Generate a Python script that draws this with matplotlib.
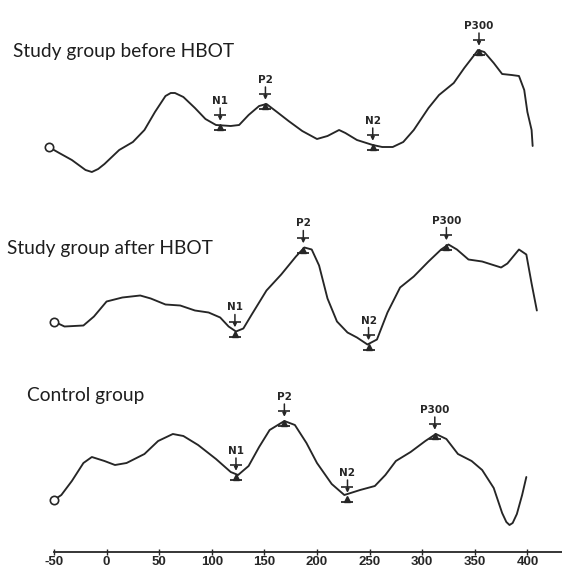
import matplotlib.pyplot as plt
from matplotlib.transforms import offset_copy

# latency (ms) and amplitude (arbitrary units, up = positive)
time_before = [-55, -45, -33, -20, -14, -8, -2, 12, 25, 36, 46, 56, 61, 65, 73, 84, 94, 104, 118,
               126, 135, 145, 152, 162, 173, 186, 200, 210, 221, 227, 238, 253, 262, 272, 282, 292,
               306, 316, 330, 340, 351, 353, 359, 368, 376, 385, 392, 397, 400, 404, 405]
amp_before = [0.0, -0.6, -1.3, -2.3, -2.5, -2.2, -1.7, -0.3, 0.5, 1.7, 3.5, 5.1, 5.4, 5.4, 5.0, 3.9,
              2.8, 2.2, 2.1, 2.2, 3.2, 4.1, 4.3, 3.5, 2.6, 1.6, 0.8, 1.1, 1.7, 1.4, 0.7, 0.2, 0.0,
              0.0, 0.5, 1.7, 3.9, 5.2, 6.4, 7.9, 9.4, 9.7, 9.5, 8.4, 7.3, 7.2, 7.1, 5.7, 3.5, 1.7,
              0.1]

time_after = [-50, -40, -22, -12, 0, 15, 32, 42, 56, 70, 84, 97, 108, 116, 123, 130, 138, 152, 166,
              180, 188, 195, 202, 210, 219, 229, 238, 248, 257, 267, 279, 292, 306, 318, 325, 333,
              344, 357, 375, 381, 392, 399, 404, 409]
amp_after = [0.0, -0.5, -0.4, 0.5, 2.0, 2.4, 2.6, 2.3, 1.7, 1.6, 1.1, 0.9, 0.4, -0.5, -1.0, -0.7, 0.7,
             3.1, 4.7, 6.5, 7.4, 7.2, 5.6, 2.3, 0.0, -1.1, -1.6, -2.3, -1.8, 0.9, 3.4, 4.5, 6.0, 7.2,
             7.7, 7.2, 6.2, 6.0, 5.4, 5.8, 7.2, 6.7, 3.8, 1.1]

time_control = [-50, -43, -33, -22, -14, -2, 8, 19, 36, 49, 63, 73, 87, 104, 118, 125, 135, 145, 155,
                169, 179, 190, 200, 214, 226, 241, 255, 265, 275, 289, 303, 313, 323, 334, 347, 357,
                368, 376, 380, 383, 386, 390, 395, 399]
amp_control = [0.0, 0.5, 1.9, 3.7, 4.3, 3.9, 3.5, 3.7, 4.6, 5.9, 6.6, 6.4, 5.5, 4.1, 2.8, 2.5, 3.4,
               5.3, 7.0, 7.9, 7.5, 5.7, 3.7, 1.6, 0.5, 1.0, 1.4, 2.5, 3.9, 4.8, 5.9, 6.6, 6.1, 4.6,
               3.9, 3.0, 1.2, -1.3, -2.2, -2.5, -2.3, -1.4, 0.5, 2.3]

peak_names = ['N1', 'P2', 'N2', 'P300']
peak_lat_before = [108, 151, 253, 354]
peak_amp_before = [2.2, 4.3, 0.2, 9.7]
peak_lat_after = [122, 187, 249, 323]
peak_amp_after = [-1.0, 7.4, -2.3, 7.7]
peak_lat_control = [123, 169, 229, 312]
peak_amp_control = [2.5, 7.9, 0.3, 6.6]

group_names = ['Study group before HBOT', 'Study group after HBOT', 'Control group']
x_ticks = [-50, 0, 50, 100, 150, 200, 250, 300, 350, 400]

W, H = 562, 569
ink = '#262626'
fig = plt.figure(figsize=(W / 100, H / 100), dpi=100)

ax1 = fig.add_axes([0, 362 / H, 1, 210 / H])
ax2 = fig.add_axes([0, 187.5 / H, 1, 210 / H])
ax3 = fig.add_axes([0, 17 / H, 1, 210 / H])
ax1.set_ylim(-6, 15)
ax2.set_ylim(-6, 15)
ax3.set_ylim(-5.2, 15.8)


def draw_wave(ax, t, a, lats, amps):
    ax.plot(t, a, color=ink, lw=1.35, clip_on=False, zorder=2,
            solid_joinstyle='round', solid_capstyle='round')
    ax.plot(t[0], a[0], 'o', mfc='white', mec=ink, ms=6, mew=1.2, zorder=3, clip_on=False)
    for name, lt, am in zip(peak_names, lats, amps):
        tri = offset_copy(ax.transData, fig=fig, y=-2, units='dots')
        ax.plot(lt, am, marker='^', ms=5, color=ink, transform=tri, zorder=4)
        base = offset_copy(ax.transData, fig=fig, y=-5, units='dots')
        ax.plot(lt, am, marker='_', ms=9, mew=1.3, color=ink, transform=base, zorder=4)
        bar = offset_copy(ax.transData, fig=fig, y=10, units='dots')
        ax.plot(lt, am, marker='_', ms=8, mew=1.2, color=ink, transform=bar, zorder=4)
        ax.annotate('', xy=(lt, am), xytext=(0, 17), textcoords='offset pixels',
                    arrowprops=dict(arrowstyle='-|>', color=ink, lw=1.1, shrinkA=0, shrinkB=3,
                                    mutation_scale=5))
        ax.annotate(name, xy=(lt, am), xytext=(0, 24), textcoords='offset pixels',
                    ha='center', va='center', fontsize=7.5, fontweight='bold', color=ink)


draw_wave(ax1, time_before, amp_before, peak_lat_before, peak_amp_before)
draw_wave(ax2, time_after, amp_after, peak_lat_after, peak_amp_after)
draw_wave(ax3, time_control, amp_control, peak_lat_control, peak_amp_control)

for ax in (ax1, ax2, ax3):
    ax.set_xlim(-101.3, 432.9)
    ax.set_facecolor('none')
    for s in ax.spines.values():
        s.set_visible(False)
    ax.set_yticks([])
    ax.set_xticks([])

ax3.spines['bottom'].set_visible(True)
ax3.spines['bottom'].set_bounds(-50, 432.9)
ax3.spines['bottom'].set_linewidth(1.3)
ax3.spines['bottom'].set_color(ink)
ax3.set_xticks(x_ticks)
ax3.set_xticklabels([str(v) for v in x_ticks], fontsize=9.5, fontweight='bold',
                    family=['Liberation Sans', 'DejaVu Sans'])
ax3.tick_params(axis='x', direction='inout', length=4, width=1, pad=1, colors=ink)

label_pos = [(12.7, 56.7), (7.2, 254.0), (27.0, 401.0)]
for name, (px, py) in zip(group_names, label_pos):
    fig.text(px / W, 1 - py / H, name, ha='left', va='baseline', fontsize=13.8,
             family=['Lato', 'DejaVu Sans'], color='#1e1e1e')

fig.savefig('out.png', dpi=100)
